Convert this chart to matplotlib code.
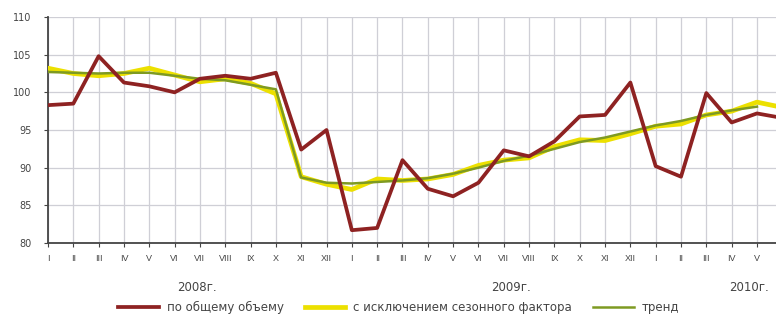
import matplotlib
matplotlib.use("Agg")
import matplotlib.pyplot as plt
import numpy as np

plt.rcParams['font.family'] = ['DejaVu Sans']

months = ["I", "II", "III", "IV", "V", "VI", "VII", "VIII", "IX", "X", "XI", "XII",
          "I", "II", "III", "IV", "V", "VI", "VII", "VIII", "IX", "X", "XI", "XII",
          "I", "II", "III", "IV", "V"]
years = ["2008г.", "2009г.", "2010г."]
year_pos = [5.9, 18.3, 27.7]

total = [98.3, 98.5, 104.8, 101.3, 100.8, 100.0, 101.8, 102.2, 101.8, 102.6, 92.4, 95.0,
         81.7, 82.0, 91.0, 87.2, 86.2, 88.0, 92.3, 91.5, 93.5, 96.8, 97.0, 101.3,
         90.2, 88.8, 99.9, 96.0, 97.2, 96.6]
seasonal = [103.2, 102.5, 102.2, 102.5, 103.2, 102.3, 101.4, 101.8, 101.2, 99.8, 88.8, 87.8,
            87.1, 88.5, 88.3, 88.5, 89.1, 90.3, 91.0, 91.3, 92.8, 93.7, 93.6, 94.5,
            95.5, 95.8, 97.0, 97.5, 98.7, 98.0]
trend = [102.7, 102.6, 102.5, 102.6, 102.6, 102.2, 101.8, 101.6, 101.0, 100.4, 88.7, 88.0,
         87.9, 88.1, 88.3, 88.6, 89.2, 90.0, 90.9, 91.6, 92.5, 93.4, 94.0, 94.8,
         95.6, 96.2, 97.0, 97.6, 98.1]
labels = ["по общему объему", "с исключением сезонного фактора", "тренд"]

fig = plt.figure(figsize=(7.76, 3.15), dpi=100)
ax = fig.add_axes([48/776, 72/315, 1 - 48/776, (243-17)/315])

x_total = np.arange(len(total))
x_seas = np.arange(len(seasonal))
x_trend = np.arange(len(trend))

l2, = ax.plot(x_seas, seasonal, color="#ECE000", lw=3.4, solid_joinstyle='round', zorder=3)
l3, = ax.plot(x_trend, trend, color="#7E9A22", lw=1.8, zorder=4)
l1, = ax.plot(x_total, total, color="#8E2222", lw=2.7, zorder=5)

ax.set_xlim(0, (776-48)/25.32)
ax.set_ylim(80, 110)
ax.set_yticks([80, 85, 90, 95, 100, 105, 110])
ax.set_xticks(np.arange(len(months)))
ax.set_xticklabels(months, family=['Liberation Sans'], fontsize=6.5)
ax.grid(True, color="#cfcfd6", lw=0.9)
ax.set_axisbelow(True)
for s in ["top", "right"]:
    ax.spines[s].set_visible(False)
ax.spines["left"].set_color("#444444")
ax.spines["bottom"].set_color("#444444")
ax.spines["left"].set_linewidth(1.3)
ax.spines["bottom"].set_linewidth(1.3)
ax.tick_params(axis='both', colors="#444444", length=3, width=0.8)
ax.tick_params(axis='y', labelsize=7, pad=9)
ax.tick_params(axis='x', pad=5)

for pos, yl in zip(year_pos, years):
    ax.text(pos, -0.195, yl, transform=ax.get_xaxis_transform(), ha='center', va='center',
            fontsize=8.5, color="#444444")

fig.legend([l1, l2, l3], labels, loc='center', bbox_to_anchor=(0.514, 0.025), ncol=3,
           frameon=False, fontsize=8.5, handlelength=3.4, columnspacing=1.8,
           handletextpad=0.7, labelcolor="#444444")

fig.savefig("out.png", dpi=100)
